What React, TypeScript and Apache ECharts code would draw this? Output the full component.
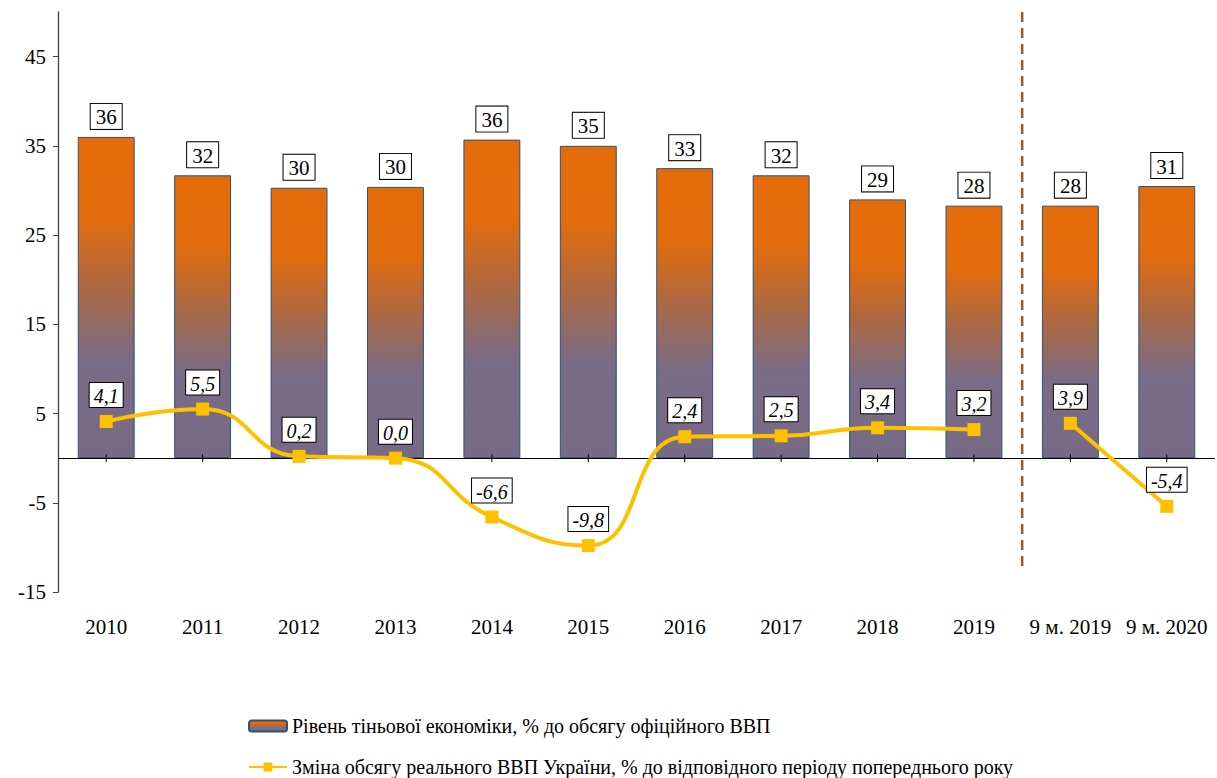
import React, { useEffect, useRef } from "react";
import * as echarts from "echarts";

const categories = ["2010", "2011", "2012", "2013", "2014", "2015", "2016", "2017", "2018", "2019", "9 м. 2019", "9 м. 2020"];
const shadowEconomy = [36.0, 31.7, 30.3, 30.4, 35.7, 35.0, 32.5, 31.7, 29.0, 28.3, 28.3, 30.5];
const gdpAnnual = [4.1, 5.5, 0.2, 0.0, -6.6, -9.8, 2.4, 2.5, 3.4, 3.2, null, null];
const gdpNineMonths = [null, null, null, null, null, null, null, null, null, null, 3.9, -5.4];
const barName = "Рівень тіньової економіки, % до обсягу офіційного ВВП";
const lineName = "Зміна обсягу реального ВВП України, % до відповідного періоду попереднього року";

const FONT = "Liberation Serif";

export default function App() {
  const ref = useRef<HTMLDivElement>(null);
  useEffect(() => {
    if (!ref.current) return;
    const chart = echarts.init(ref.current, null, { renderer: "svg" });
    const barGradient = new echarts.graphic.LinearGradient(0, 0, 0, 1, [
      { offset: 0, color: "#E46C0A" },
      { offset: 0.25, color: "#E36C0D" },
      { offset: 0.45, color: "#B0683E" },
      { offset: 0.7, color: "#786C87" },
      { offset: 1, color: "#766A85" },
    ]);
    const lineLabel = {
      show: true,
      position: "top" as const,
      distance: 8,
      fontFamily: FONT,
      fontStyle: "italic" as const,
      fontSize: 20,
      color: "#000",
      backgroundColor: "#fff",
      borderColor: "#000",
      borderWidth: 1,
      padding: [3, 4, 1, 4],
      formatter: (p: any) => Number(p.value).toFixed(1).replace(".", ","),
    };
    const lineCommon = {
      type: "line" as const,
      name: lineName,
      smooth: 0.5,
      connectNulls: false,
      symbol: "rect",
      symbolSize: 13,
      z: 5,
      lineStyle: { color: "#FFC000", width: 4 },
      itemStyle: { color: "#FFC000" },
      label: lineLabel,
    };
    const legendText = { fontFamily: FONT, fontSize: 20, color: "#000" };
    chart.setOption({
      animation: false,
      textStyle: { fontFamily: FONT },
      grid: { left: 58, right: 2, top: 12, bottom: 186, containLabel: false },
      legend: [
        {
          left: 248,
          top: 716,
          padding: 0,
          itemWidth: 38,
          itemHeight: 11,
          itemGap: 4,
          textStyle: legendText,
          data: [barName],
        },
        {
          left: 248,
          top: 757,
          padding: 0,
          itemWidth: 38,
          itemHeight: 11,
          itemGap: 4,
          textStyle: legendText,
          data: [lineName],
        },
      ],
      xAxis: {
        type: "category",
        data: categories,
        position: "bottom",
        axisLine: { show: false, onZero: false },
        axisTick: { show: false },
        axisLabel: { show: true, fontFamily: FONT, fontSize: 21, color: "#000", margin: 24, interval: 0 },
        splitLine: { show: false },
      },
      yAxis: {
        type: "value",
        min: -15,
        max: 50,
        interval: 10,
        axisLine: { show: true, lineStyle: { color: "#404040", width: 1.3 } },
        axisTick: { show: true, length: 5, lineStyle: { color: "#404040" } },
        axisLabel: { fontFamily: FONT, fontSize: 21, color: "#000", margin: 12, showMaxLabel: false },
        splitLine: { show: false },
      },
      series: [
        {
          type: "bar",
          name: barName,
          data: shadowEconomy,
          barWidth: "59%",
          itemStyle: { color: barGradient, borderColor: "#2F5275", borderWidth: 1 },
          label: {
            show: true,
            position: "top",
            distance: 8,
            fontFamily: FONT,
            fontSize: 21,
            color: "#000",
            backgroundColor: "#fff",
            borderColor: "#000",
            borderWidth: 1,
            padding: [3, 5, 1, 5],
            formatter: (p: any) => String(Math.round(p.value)),
          },
          markLine: {
            silent: true,
            symbol: "none",
            label: { show: false },
            lineStyle: { color: "#000", width: 1, type: "solid" },
            data: [{ yAxis: 0 }],
            z: 3,
          },
        },
        { ...lineCommon, data: gdpAnnual },
        { ...lineCommon, data: gdpNineMonths },
      ],
    });
    const yTop = chart.convertToPixel({ yAxisIndex: 0 }, 50) as number;
    const yBot = chart.convertToPixel({ yAxisIndex: 0 }, -12.5) as number;
    const y0 = chart.convertToPixel({ yAxisIndex: 0 }, 0) as number;
    const centers = categories.map((c) => chart.convertToPixel({ xAxisIndex: 0 }, c) as number);
    const xs = (centers[9] + centers[10]) / 2;
    const ticks = centers.map((cx) => ({
      type: "line",
      shape: { x1: cx, y1: y0 - 4, x2: cx, y2: y0 + 4 },
      style: { stroke: "#000", lineWidth: 1 },
      z: 4,
    }));
    chart.setOption({
      graphic: [
        ...ticks,
        {
          type: "line",
          shape: { x1: xs, y1: yTop, x2: xs, y2: yBot },
          style: { stroke: "#A5561C", lineWidth: 2.5, lineDash: [10, 6] },
          z: 10,
        },
      ],
    });
    return () => chart.dispose();
  }, []);
  return <div ref={ref} style={{ position: "absolute", left: 0, top: 0, width: 1217, height: 778 }} />;
}
